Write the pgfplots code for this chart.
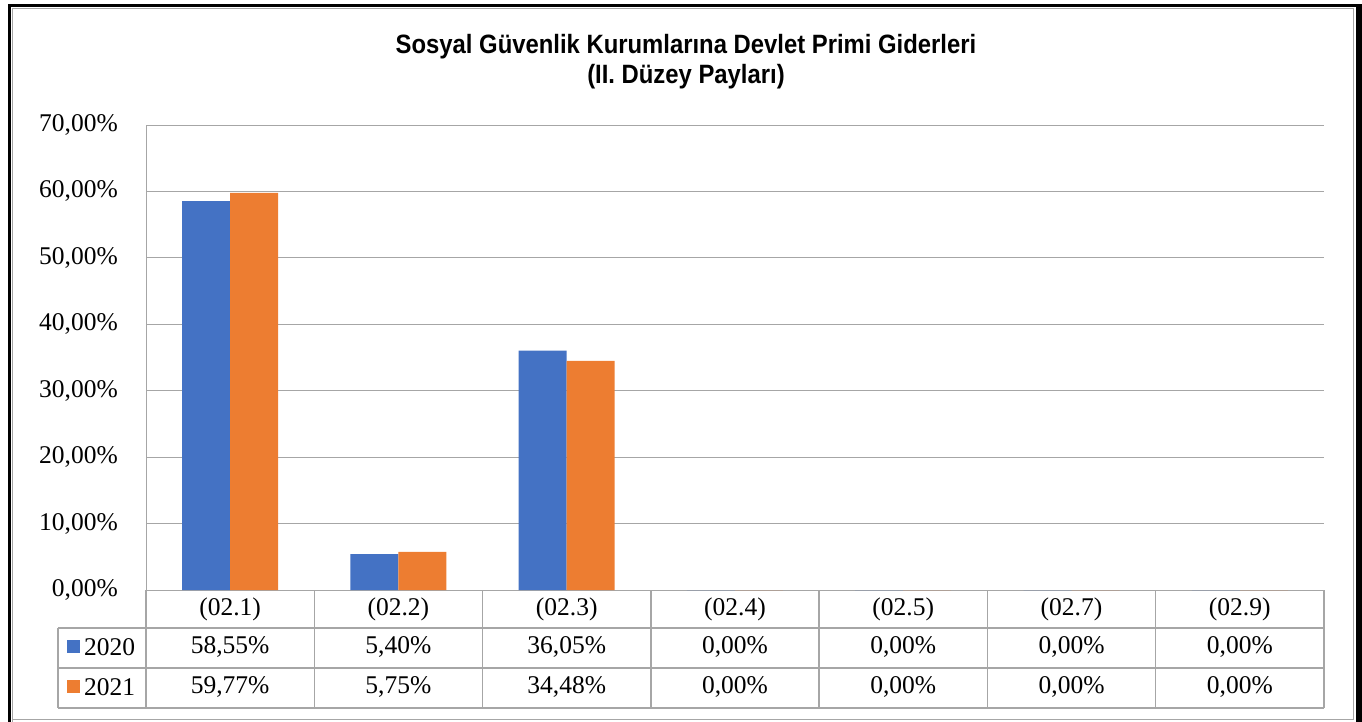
\documentclass[border=0pt]{standalone}
\usepackage{pgfplots}
\pgfplotsset{compat=1.18}
\usepackage{fontspec}
\setmainfont{Liberation Serif}
\newfontfamily\titlefont{Liberation Sans Bold}[FakeStretch=0.9]
\definecolor{c20}{HTML}{4472C4}
\definecolor{c21}{HTML}{ED7D31}
\definecolor{gridc}{HTML}{A6A6A6}
\newcommand{\tf}{\fontsize{25.5}{30}\selectfont}
\begin{document}
\begin{tikzpicture}[x=1pt,y=1pt]
\useasboundingbox (0,0) rectangle (1362,-722);
% outer frames
\draw[black, line width=3pt] (9.5,-722) -- (9.5,-5.5) -- (1358,-5.5);
\fill[black] (1356,-4) rectangle (1362,-722);
\draw[gridc, line width=1.5pt] (12.5,-722) -- (12.5,-8.5) -- (1353.5,-8.5) -- (1353.5,-719.5) -- (12.5,-719.5);
% title
\node[font=\titlefont\fontsize{26.5}{30}\selectfont, align=center] at (686,-62)
  {Sosyal Güvenlik Kurumlarına Devlet Primi Giderleri\\(II. Düzey Payları)};
\begin{axis}[
  at={(146pt,-590pt)}, anchor=south west,
  scale only axis, width=1178pt, height=465pt,
  xmin=-0.5, xmax=6.5, ymin=0, ymax=70,
  ybar=0pt, bar width=48pt,
  xtick={0,...,6},
  xticklabels={(02.1),(02.2),(02.3),(02.4),(02.5),(02.7),(02.9)},
  ytick={0,10,...,70},
  major tick length=0pt,
  ymajorgrids, grid style={gridc, line width=1pt},
  axis lines*=left,
  y axis line style={gridc, line width=1pt},
  x axis line style={gridc, line width=1pt},
  yticklabel={\pgfmathprintnumber[fixed,fixed zerofill,precision=2,use comma,assume math mode=true]{\tick}\%},
  yticklabel style={font=\tf, inner sep=0pt, anchor=east, xshift=-28pt},
  xticklabel style={font=\tf, inner sep=0pt, anchor=center, yshift=-19pt},
  clip=false,
]
\addplot[fill=c20, draw=none] coordinates {(0,58.55) (1,5.40) (2,36.05) (3,0) (4,0) (5,0) (6,0)};
\addplot[fill=c21, draw=none] coordinates {(0,59.77) (1,5.75) (2,34.48) (3,0) (4,0) (5,0) (6,0)};
\end{axis}
% data table
\foreach \k in {0,...,7} \draw[gridc, line width=1.5pt] ({146+\k*168.286},-590) -- ++(0,-118);
\draw[gridc, line width=1.5pt] (58,-628) -- (1324,-628);
\draw[gridc, line width=1.5pt] (58,-668) -- (1324,-668);
\draw[gridc, line width=1.5pt] (58,-708) -- (1324,-708);
\draw[gridc, line width=1.5pt] (58,-628) -- (58,-708);
\fill[c20] (67,-640) rectangle ++(13,-13);
\fill[c21] (67,-680) rectangle ++(13,-13);
\node[font=\tf, anchor=west, inner sep=0pt] at (84,-647) {2020};
\node[font=\tf, anchor=west, inner sep=0pt] at (84,-687) {2021};
\foreach \v [count=\i from 0] in {{58,55\%},{5,40\%},{36,05\%},{0,00\%},{0,00\%},{0,00\%},{0,00\%}}
  \node[font=\tf, inner sep=0pt] at ({230.14+\i*168.286},-647) {\v};
\foreach \v [count=\i from 0] in {{59,77\%},{5,75\%},{34,48\%},{0,00\%},{0,00\%},{0,00\%},{0,00\%}}
  \node[font=\tf, inner sep=0pt] at ({230.14+\i*168.286},-687) {\v};
\end{tikzpicture}
\end{document}
